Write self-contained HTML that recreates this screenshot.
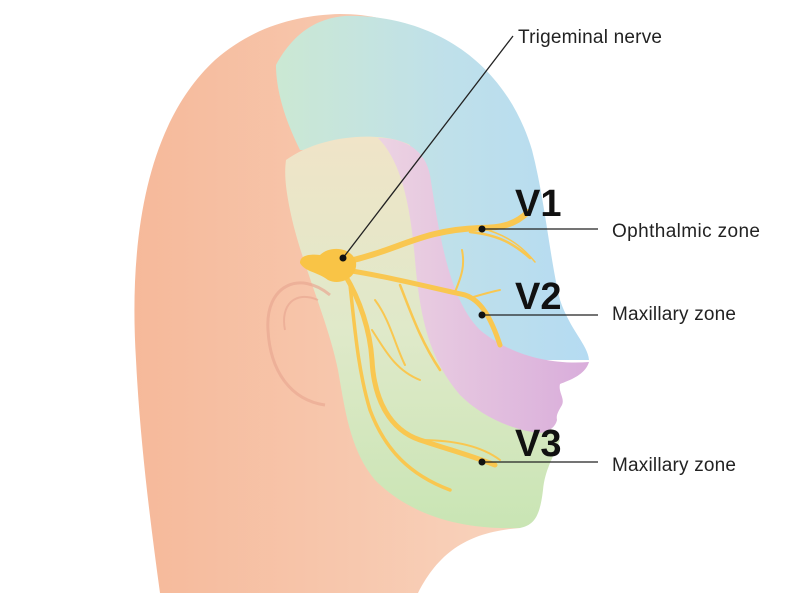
<!DOCTYPE html>
<html><head><meta charset="utf-8"><style>
html,body{margin:0;padding:0;background:#fff;width:800px;height:593px;overflow:hidden}
text{font-family:"Liberation Sans",sans-serif}
</style></head><body>
<svg width="800" height="593" viewBox="0 0 800 593" xmlns="http://www.w3.org/2000/svg">
<defs>
<linearGradient id="skin" x1="0" x2="1" y1="0" y2="0">
<stop offset="0" stop-color="#f6b99a"/><stop offset="1" stop-color="#f8d3bd"/></linearGradient>
<linearGradient id="blue" x1="0" x2="1" y1="0" y2="0">
<stop offset="0" stop-color="#cbe8d3"/><stop offset="0.55" stop-color="#bfe0ea"/><stop offset="1" stop-color="#b5dbf2"/></linearGradient>
<linearGradient id="pink" x1="0" x2="1" y1="0" y2="0">
<stop offset="0" stop-color="#ecd3e2"/><stop offset="1" stop-color="#d9addb"/></linearGradient>
<linearGradient id="low" x1="0" x2="0" y1="0" y2="1">
<stop offset="0" stop-color="#f0e4c8"/><stop offset="0.5" stop-color="#dfe9c9"/><stop offset="1" stop-color="#c9e5b4"/></linearGradient>
</defs>
<!-- head skin -->
<path d="M160 593 C150 520 140 440 136 360 C128 230 150 120 215 60 C255 25 300 15 340 14 C400 14 450 40 480 100 L470 450 L520 528 C470 532 440 550 418 593 Z" fill="url(#skin)"/>
<!-- blue V1 -->
<path d="M276 65 C295 30 320 18 345 16 C430 14 505 60 532 150 C545 200 550 260 560 300 C570 330 588 345 589 360 L470 360 C440 330 420 260 405 150 L300 150 C285 120 276 90 276 65 Z" fill="url(#blue)"/>
<!-- lower V3 / beige area -->
<path d="M286 160 C320 135 380 130 410 145 L450 300 L560 440 C552 460 545 470 543 490 C540 515 535 525 520 528 C460 530 410 515 375 480 C350 450 345 410 338 370 C328 320 300 260 290 210 C286 190 284 175 286 160 Z" fill="url(#low)"/>
<!-- pink V2 -->
<path d="M378 138 C405 138 425 150 430 175 C440 240 450 300 480 330 C510 355 550 365 589 362 C585 375 570 380 560 384 C558 392 565 398 562 405 C558 412 556 415 557 420 C555 428 548 432 540 433 C510 430 480 415 460 395 C430 360 420 320 415 260 C410 200 400 160 378 138 Z" fill="url(#pink)"/>
<!-- ear -->
<g fill="none" stroke="#eaa993" stroke-width="3" opacity="0.7">
<path d="M330 295 C300 270 265 285 268 330 C270 370 290 400 325 405"/>
<path d="M318 300 C295 290 280 305 285 330" stroke-width="2"/>
</g>
<!-- nerves -->
<g fill="none" stroke="#f9c750" stroke-linecap="round">
<path d="M345 262 C400 250 420 230 480 228 C500 228 515 225 528 212" stroke-width="6"/>
<path d="M470 232 C500 235 515 245 530 258" stroke-width="2.5"/>
<path d="M480 228 C510 235 525 250 535 262" stroke-width="1.5"/>
<path d="M345 270 C380 275 420 285 465 295 C480 300 490 315 500 345" stroke-width="5"/>
<path d="M455 292 C462 275 465 265 462 250" stroke-width="2"/>
<path d="M470 298 C480 295 490 292 500 290" stroke-width="2"/>
<path d="M400 285 C410 310 420 340 440 370" stroke-width="2.5"/>
<path d="M345 275 C360 300 370 330 372 360 C374 400 390 430 420 440 C450 450 470 455 495 465" stroke-width="5"/>
<path d="M350 285 C355 330 358 370 370 410 C385 450 410 475 450 490" stroke-width="3.5"/>
<path d="M372 330 C385 350 395 370 420 380" stroke-width="2"/>
<path d="M375 300 C390 320 395 345 405 365" stroke-width="2"/>
<path d="M420 440 C450 440 480 445 500 460" stroke-width="2"/>
</g>
<path d="M300 263 C300 255 310 254 320 255 C330 245 352 247 356 262 C358 278 340 286 328 280 C318 272 305 272 300 263 Z" fill="#f9c446"/>
<!-- leader lines -->
<g stroke="#222" stroke-width="1.3">
<line x1="343" y1="258" x2="513" y2="36"/>
<line x1="482" y1="229" x2="598" y2="229"/>
<line x1="482" y1="315" x2="598" y2="315"/>
<line x1="482" y1="462" x2="598" y2="462"/>
</g>
<g fill="#111">
<circle cx="343" cy="258" r="3.5"/><circle cx="482" cy="229" r="3.5"/>
<circle cx="482" cy="315" r="3.5"/><circle cx="482" cy="462" r="3.5"/>
</g>
<text x="518" y="43" font-size="19" textLength="144" fill="#222">Trigeminal nerve</text>
<text x="612" y="237" font-size="19" textLength="148" fill="#222">Ophthalmic zone</text>
<text x="612" y="320" font-size="19" textLength="124" fill="#222">Maxillary zone</text>
<text x="612" y="471" font-size="19" textLength="124" fill="#222">Maxillary zone</text>
<text x="515" y="216" font-size="38" font-weight="bold" fill="#111">V1</text>
<text x="515" y="309" font-size="38" font-weight="bold" fill="#111">V2</text>
<text x="515" y="456" font-size="38" font-weight="bold" fill="#111">V3</text>
</svg>
</body></html>
